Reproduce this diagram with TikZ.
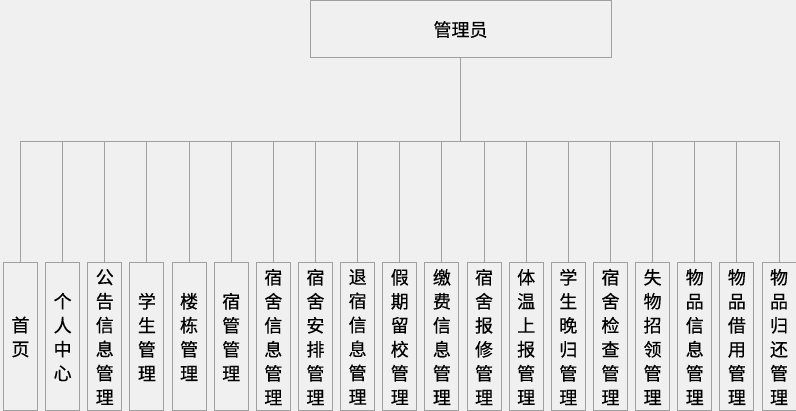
\documentclass[tikz,border=0pt]{standalone}
\usepackage{fontspec}
\setmainfont{Noto Sans CJK SC}[FakeBold=0.4]
\usepackage{tikz}
\usetikzlibrary{positioning}
\definecolor{bgcol}{HTML}{F0F0F0}
\definecolor{linecol}{HTML}{A0A0A0}

\begin{document}
\begin{tikzpicture}[x=1pt, y=1pt, node distance=7.14pt,
    box/.style={draw=linecol, line width=1pt, rectangle, fill=bgcol, inner sep=0pt},
    leaf/.style={box, minimum width=34pt, minimum height=148pt, text width=34pt, align=center,
        font=\fontsize{18}{24}\selectfont},
    link/.style={draw=linecol, line width=1pt}]
    \fill[bgcol] (0,0) rectangle (796,-411);
    \useasboundingbox (0,0) rectangle (796,-411);
    \clip (0,0) rectangle (796,-411);

    % Root
    \node[box, minimum width=301pt, minimum height=57pt, font=\fontsize{18}{24}\selectfont] (admin) at (460.5,-29.5) {管理员};

    % Modules
    \node[leaf] (m1) at (20.5,-337) {首\\页};
    \node[leaf, right=of m1] (m2) {个\\人\\中\\心};
    \node[leaf, right=of m2] (m3) {公\\告\\信\\息\\管\\理};
    \node[leaf, right=of m3] (m4) {学\\生\\管\\理};
    \node[leaf, right=of m4] (m5) {楼\\栋\\管\\理};
    \node[leaf, right=of m5] (m6) {宿\\管\\管\\理};
    \node[leaf, right=of m6] (m7) {宿\\舍\\信\\息\\管\\理};
    \node[leaf, right=of m7] (m8) {宿\\舍\\安\\排\\管\\理};
    \node[leaf, right=of m8] (m9) {退\\宿\\信\\息\\管\\理};
    \node[leaf, right=of m9] (m10) {假\\期\\留\\校\\管\\理};
    \node[leaf, right=of m10] (m11) {缴\\费\\信\\息\\管\\理};
    \node[leaf, right=of m11] (m12) {宿\\舍\\报\\修\\管\\理};
    \node[leaf, right=of m12] (m13) {体\\温\\上\\报\\管\\理};
    \node[leaf, right=of m13] (m14) {学\\生\\晚\\归\\管\\理};
    \node[leaf, right=of m14] (m15) {宿\\舍\\检\\查\\管\\理};
    \node[leaf, right=of m15] (m16) {失\\物\\招\\领\\管\\理};
    \node[leaf, right=of m16] (m17) {物\\品\\信\\息\\管\\理};
    \node[leaf, right=of m17] (m18) {物\\品\\借\\用\\管\\理};
    \node[leaf, right=of m18] (m19) {物\\品\\归\\还\\管\\理};

    % Connections
    \coordinate (hub) at (admin.south |- 0,-142);
    \draw[link] (admin.south) -- (hub);
    \foreach \m in {1,...,19}
        \draw[link] (m\m.north) |- (hub);
\end{tikzpicture}
\end{document}
